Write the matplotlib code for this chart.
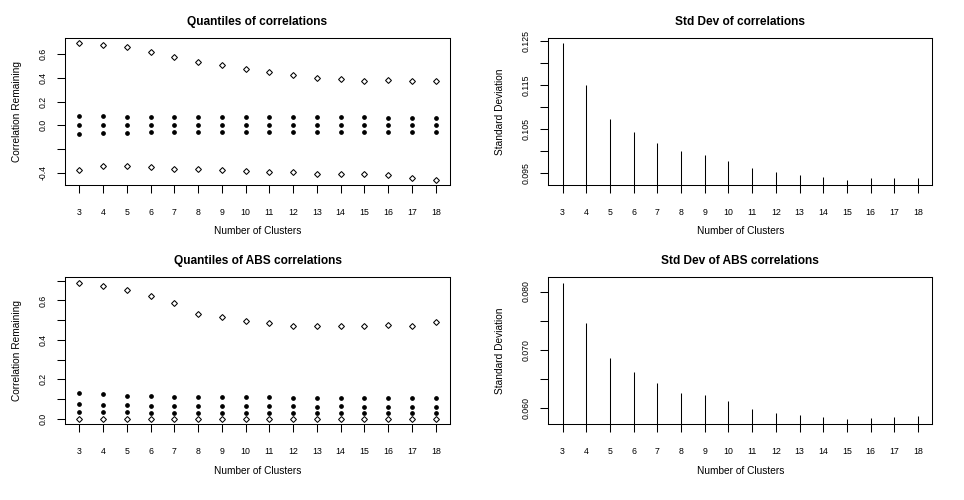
import matplotlib
matplotlib.use('Agg')
import matplotlib.pyplot as plt

plt.rcParams['font.family'] = ['Liberation Sans', 'DejaVu Sans']

clusters = list(range(3, 19))

# Quantiles of correlations
q_max = [0.688, 0.672, 0.655, 0.619, 0.578, 0.528, 0.505, 0.472, 0.447, 0.419,
         0.394, 0.389, 0.369, 0.378, 0.369, 0.369]
q_upper = [0.080, 0.080, 0.072, 0.072, 0.072, 0.072, 0.072, 0.072, 0.072, 0.072,
           0.072, 0.072, 0.072, 0.064, 0.064, 0.064]
q_median = [0.0, 0.0, 0.0, 0.0, 0.0, 0.0, 0.0, 0.0, 0.0, 0.0,
            0.0, 0.0, 0.0, 0.0, 0.0, 0.0]
q_lower = [-0.070, -0.062, -0.062, -0.053, -0.053, -0.053, -0.053, -0.053, -0.053, -0.053,
           -0.053, -0.053, -0.053, -0.053, -0.053, -0.053]
q_min = [-0.373, -0.345, -0.345, -0.353, -0.364, -0.364, -0.373, -0.381, -0.389, -0.389,
         -0.406, -0.411, -0.411, -0.420, -0.439, -0.456]

# Std dev of correlations
sd_corr = [0.1244, 0.1150, 0.1073, 0.1044, 0.1019, 0.1001, 0.0992, 0.0978, 0.0963, 0.0954,
           0.0947, 0.0942, 0.0936, 0.0940, 0.0940, 0.0940]

# Quantiles of ABS correlations
abs_max = [0.690, 0.675, 0.655, 0.625, 0.585, 0.534, 0.514, 0.494, 0.484, 0.469,
           0.469, 0.469, 0.469, 0.474, 0.469, 0.489]
abs_q75 = [0.132, 0.127, 0.117, 0.117, 0.112, 0.112, 0.112, 0.112, 0.112, 0.107,
           0.107, 0.107, 0.107, 0.107, 0.107, 0.107]
abs_q50 = [0.075, 0.070, 0.070, 0.065, 0.065, 0.065, 0.065, 0.065, 0.065, 0.065,
           0.060, 0.065, 0.060, 0.060, 0.060, 0.060]
abs_q25 = [0.037, 0.037, 0.037, 0.032, 0.032, 0.032, 0.032, 0.032, 0.032, 0.032,
           0.032, 0.032, 0.032, 0.032, 0.032, 0.032]
abs_min = [0.0, 0.0, 0.0, 0.0, 0.0, 0.0, 0.0, 0.0, 0.0, 0.0,
           0.0, 0.0, 0.0, 0.0, 0.0, 0.0]

# Std dev of ABS correlations
sd_abs = [0.0815, 0.0746, 0.0686, 0.0663, 0.0644, 0.0627, 0.0623, 0.0613, 0.0599, 0.0592,
          0.0589, 0.0585, 0.0582, 0.0584, 0.0585, 0.0587]

titles = ['Quantiles of correlations', 'Std Dev of correlations',
          'Quantiles of ABS correlations', 'Std Dev of ABS correlations']
ylabels = ['Correlation Remaining', 'Standard Deviation',
           'Correlation Remaining', 'Standard Deviation']
xlabel = 'Number of Clusters'

W, H = 964, 500
fig = plt.figure(figsize=(W / 100, H / 100), dpi=100)

boxes = [(65, 38, 450, 185), (548.3, 38, 932.3, 185),
         (65, 277.3, 450, 424.3), (548.3, 277.3, 932.3, 424.3)]

TICK_FS = 6.3
LAB_FS = 7.3
TITLE_FS = 8.6
LW = 0.75


def make_axes(i):
    l, t, r, b = boxes[i]
    ax = fig.add_axes([l / W, 1 - b / H, (r - l) / W, (b - t) / H])
    for s in ax.spines.values():
        s.set_linewidth(LW)
    ax.tick_params(direction='out', length=6, width=LW, labelsize=TICK_FS)
    ax.tick_params(axis='x', pad=10.5)
    ax.tick_params(axis='y', pad=6.5)
    ax.set_xticks(clusters)
    ax.set_xticklabels([str(c) for c in clusters])
    xmin, xmax = min(clusters), max(clusters)
    dx = (xmax - xmin) * 0.04
    ax.set_xlim(xmin - dx, xmax + dx)
    cx = (l + r) / 2 / W
    cy = 1 - (t + b) / 2 / H
    fig.text(cx, 1 - (t - 16.3) / H, titles[i], ha='center', va='center',
             fontsize=TITLE_FS, fontweight='bold')
    fig.text(cx, 1 - (b + 46.3) / H, xlabel, ha='center', va='center', fontsize=LAB_FS)
    ylx = 17 if l < 100 else 500
    fig.text(ylx / W, cy, ylabels[i], ha='center', va='center', rotation=90,
             fontsize=LAB_FS)
    return ax


def set_ylim_r(ax, series):
    lo = min(min(s) for s in series)
    hi = max(max(s) for s in series)
    d = (hi - lo) * 0.04
    ax.set_ylim(lo - d, hi + d)


def set_yticks(ax, ticks, labels):
    ax.set_yticks(ticks)
    ax.set_yticklabels(labels, rotation=90, va='center')


open_kw = dict(linestyle='none', marker='D', markersize=3.0, markerfacecolor='none',
               markeredgecolor='black', markeredgewidth=0.75)
dot_kw = dict(linestyle='none', marker='o', markersize=2.4, color='black')

# Panel 1
ax = make_axes(0)
ax.plot(clusters, q_max, **open_kw)
ax.plot(clusters, q_min, **open_kw)
ax.plot(clusters, q_upper, **dot_kw)
ax.plot(clusters, q_median, **dot_kw)
ax.plot(clusters, q_lower, **dot_kw)
set_ylim_r(ax, [q_max, q_min, q_upper, q_median, q_lower])
set_yticks(ax, [-0.4, -0.2, 0.0, 0.2, 0.4, 0.6], ['-0.4', '', '0.0', '0.2', '0.4', '0.6'])

# Panel 2
ax = make_axes(1)
set_ylim_r(ax, [sd_corr])
ax.vlines(clusters, 0, sd_corr, color='black', linewidth=LW)
set_yticks(ax, [0.095, 0.100, 0.105, 0.110, 0.115, 0.120, 0.125],
           ['0.095', '', '0.105', '', '0.115', '', '0.125'])
set_ylim_r(ax, [sd_corr])

# Panel 3
ax = make_axes(2)
ax.plot(clusters, abs_max, **open_kw)
ax.plot(clusters, abs_min, **open_kw)
ax.plot(clusters, abs_q75, **dot_kw)
ax.plot(clusters, abs_q50, **dot_kw)
ax.plot(clusters, abs_q25, **dot_kw)
set_ylim_r(ax, [abs_max, abs_min, abs_q75, abs_q50, abs_q25])
set_yticks(ax, [0.0, 0.1, 0.2, 0.3, 0.4, 0.5, 0.6, 0.7],
           ['0.0', '', '0.2', '', '0.4', '', '0.6', ''])

# Panel 4
ax = make_axes(3)
set_ylim_r(ax, [sd_abs])
ax.vlines(clusters, 0, sd_abs, color='black', linewidth=LW)
set_yticks(ax, [0.060, 0.065, 0.070, 0.075, 0.080],
           ['0.060', '', '0.070', '', '0.080'])
set_ylim_r(ax, [sd_abs])

fig.savefig('out.png', dpi=100, facecolor='white')
